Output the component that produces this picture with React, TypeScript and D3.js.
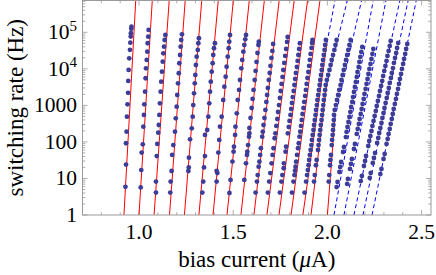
import * as d3 from "d3";

// theory curves: [bias current (uA), switching rate (Hz)]
const redFits: [number, number][][] = [
  [[0.920, 1], [0.984, 1e6]],
  [[1.000, 1], [1.072, 1e6]],
  [[1.080, 1], [1.162, 1e6]],
  [[1.162, 1], [1.247, 1e6]],
  [[1.241, 1], [1.335, 1e6]],
  [[1.318, 1], [1.423, 1e6]],
  [[1.393, 1], [1.503, 1e6]],
  [[1.467, 1], [1.588, 1e6]],
  [[1.541, 1], [1.668, 1e6]],
  [[1.610, 1], [1.747, 1e6]],
  [[1.679, 1], [1.827, 1e6]],
  [[1.743, 1], [1.898, 1e6]],
  [[1.807, 1], [1.964, 1e6]],
  [[1.870, 1], [1.998, 51300]],
  [[1.913, 1], [1.996, 3630]],
  [[2.000, 1], [2.040, 447]],
];

const blueFits: [number, number][][] = [
  [[1.998, 51300], [2.045, 1e6]],
  [[1.996, 3630], [2.112, 1e6]],
  [[2.040, 447], [2.187, 1e6]],
  [[2.035, 1], [2.248, 1e6]],
  [[2.088, 1], [2.316, 1e6]],
  [[2.141, 1], [2.390, 1e6]],
  [[2.189, 1], [2.434, 1e6]],
  [[2.237, 1], [2.477, 1e6]],
];

// measured switching rates, one set per temperature
const dots01 = [[0.928,5.9],[0.931,24],[0.931,92],[0.934,190],[0.936,490],[0.939,1070],[0.942,2200],[0.943,4650],[0.945,9300],[0.948,19400],[0.952,33000],[0.954,52000],[0.956,76000],[0.957,94000],[0.959,125000],[0.960,142000]];
const dots02 = [[1.009,5.7],[1.012,17],[1.014,51],[1.020,86],[1.023,261],[1.026,546],[1.028,1070],[1.032,2370],[1.035,5510],[1.037,10300],[1.041,17500],[1.044,29400],[1.046,50000],[1.049,75800],[1.051,116000]];
const dots03 = [[1.090,4.1],[1.090,8.2],[1.094,41],[1.097,88],[1.102,179],[1.105,290],[1.108,546],[1.111,1140],[1.115,2370],[1.118,4450],[1.122,8350],[1.126,15700],[1.129,26600],[1.133,40400],[1.136,61500],[1.140,84300]];
const dots04 = [[1.166,4.1],[1.168,8.2],[1.173,16],[1.176,44],[1.182,82],[1.191,190],[1.195,443],[1.200,920],[1.203,1920],[1.207,4020],[1.211,7550],[1.214,14200],[1.218,23900],[1.221,40400],[1.224,61500],[1.228,88100]];
const dots05 = [[1.262,16],[1.264,20],[1.265,37],[1.271,118],[1.280,236],[1.285,490],[1.288,1020],[1.292,2140],[1.296,4020],[1.299,6780],[1.302,12700],[1.306,21500],[1.312,32800],[1.315,50000],[1.318,68500]];
const dots06 = [[1.336,4.1],[1.341,8.2],[1.345,20],[1.350,41],[1.350,155],[1.362,212],[1.368,490],[1.373,1140],[1.377,2370],[1.381,4450],[1.386,8350],[1.391,14200],[1.394,23900],[1.398,36500],[1.403,50000]];
const dots07 = [[1.412,8.2],[1.416,14],[1.412,16],[1.421,51],[1.426,113],[1.430,261],[1.439,490],[1.447,1400],[1.453,3240],[1.460,6090],[1.465,11400],[1.471,21500],[1.476,36500],[1.479,55300],[1.483,84300]];
const dots08 = [[1.480,4.0],[1.486,9.1],[1.496,29],[1.502,54],[1.504,74],[1.510,155],[1.512,261],[1.519,607],[1.524,1400],[1.531,2640],[1.536,4950],[1.543,10300],[1.548,17500],[1.554,29400],[1.559,44900],[1.564,64300],[1.568,84300]];
const dots09 = [[1.559,9.1],[1.568,26],[1.573,44],[1.575,54],[1.579,82],[1.584,139],[1.586,172],[1.586,240],[1.592,451],[1.598,848],[1.603,1500],[1.608,2640],[1.614,4950],[1.619,8730],[1.624,15400],[1.629,27100],[1.634,44900],[1.636,55300]];
const dots10 = [[1.619,4.1],[1.626,8.2],[1.630,12.4],[1.635,21],[1.639,28.8],[1.643,44],[1.647,67],[1.654,139],[1.657,190],[1.661,290],[1.666,451],[1.671,748],[1.676,1240],[1.680,1920],[1.684,2990],[1.689,4950],[1.694,7690],[1.698,12000],[1.703,19800],[1.708,30800],[1.712,47800]];
const dots11 = [[1.684,4.1],[1.691,8.2],[1.697,14],[1.704,26],[1.709,44],[1.714,67],[1.720,126],[1.724,172],[1.729,273],[1.734,424],[1.738,659],[1.743,1020],[1.748,1590],[1.752,2470],[1.757,3850],[1.762,5980],[1.766,9290],[1.771,14500],[1.776,22500],[1.781,34900],[1.786,54300],[1.789,74300]];
const dots12 = [[1.748,4.1],[1.756,8.2],[1.761,12.4],[1.768,19],[1.769,26],[1.778,54],[1.781,74],[1.790,172],[1.795,256],[1.799,374],[1.804,546],[1.808,796],[1.812,1160],[1.816,1690],[1.821,2470],[1.825,3610],[1.829,5270],[1.833,7690],[1.838,11200],[1.842,16400],[1.846,23900],[1.850,34900],[1.854,50000]];
const dots13 = [[1.812,4.1],[1.820,8.2],[1.825,12.4],[1.828,16.3],[1.831,21],[1.834,28.8],[1.839,44],[1.844,67],[1.848,92],[1.852,139],[1.856,190],[1.860,273],[1.864,398],[1.868,581],[1.873,848],[1.877,1240],[1.882,1810],[1.886,2640],[1.890,3850],[1.894,5610],[1.899,8190],[1.903,12000],[1.907,17500],[1.911,25500],[1.916,37200],[1.919,50900],[1.921,61500]];
const dots14 = [[1.879,4.1],[1.887,8.2],[1.892,12.4],[1.896,17],[1.900,23],[1.903,32],[1.907,44],[1.911,60],[1.915,82],[1.918,113],[1.922,155],[1.926,212],[1.929,290],[1.933,398],[1.937,546],[1.940,748],[1.944,1020],[1.947,1400],[1.951,1920],[1.955,2640],[1.959,3610],[1.962,4950],[1.966,6780],[1.970,9290],[1.973,12700],[1.977,17500],[1.981,23900],[1.985,32800],[1.988,44900],[1.992,61500]];
const dots15 = [[1.929,8.2],[1.933,12.4],[1.939,23],[1.943,32],[1.950,60],[1.953,82],[1.956,113],[1.959,155],[1.962,212],[1.965,290],[1.969,398],[1.972,546],[1.975,748],[1.978,1020],[1.981,1400],[1.985,1920],[1.988,2640],[1.991,3610],[1.997,4950],[2.004,6780],[2.011,9290],[2.017,12700],[2.023,17500],[2.030,23900],[2.037,32800],[2.043,44900],[2.049,61500]];
const dots16 = [[2.007,8.2],[2.010,12.4],[2.014,23],[2.016,32],[2.019,44],[2.023,82],[2.025,113],[2.028,155],[2.030,212],[2.032,290],[2.034,398],[2.035,546],[2.039,748],[2.045,1020],[2.051,1400],[2.057,1920],[2.063,2640],[2.070,3610],[2.075,4950],[2.081,6780],[2.087,9290],[2.093,12700],[2.099,17500],[2.105,23900],[2.111,32800],[2.117,44900],[2.123,61500]];
const dots17 = [[2.049,5.8],[2.054,8.0],[2.064,15],[2.068,20.6],[2.073,28.2],[2.083,53],[2.088,72.6],[2.098,136],[2.102,187],[2.107,256],[2.112,351],[2.117,481],[2.122,659],[2.126,903],[2.132,1240],[2.136,1690],[2.141,2320],[2.146,3180],[2.151,4370],[2.156,5980],[2.160,8190],[2.166,11200],[2.170,15400],[2.175,21100],[2.180,28900],[2.185,39600]];
const dots18 = [[2.105,7.1],[2.109,9.7],[2.120,18.2],[2.125,24.9],[2.130,34.1],[2.141,64],[2.146,87.7],[2.156,165],[2.161,226],[2.167,309],[2.171,424],[2.177,581],[2.182,796],[2.187,1090],[2.193,1500],[2.197,2050],[2.203,2810],[2.208,3850],[2.213,5270],[2.218,7220],[2.223,9900],[2.229,13600],[2.234,18600],[2.239,25500],[2.244,34900]];
const dots19 = [[2.177,8.5],[2.183,11.7],[2.194,21.9],[2.200,30.0],[2.205,41.2],[2.217,77.3],[2.222,106],[2.228,145],[2.234,199],[2.239,273],[2.245,374],[2.251,512],[2.257,702],[2.262,962],[2.268,1320],[2.274,1810],[2.279,2470],[2.285,3390],[2.291,4650],[2.296,6370],[2.302,8730],[2.308,12000],[2.314,16400],[2.319,22500],[2.325,30800],[2.331,42200],[2.336,57800]];
const dots20 = [[2.225,10.3],[2.230,14.1],[2.241,26.5],[2.247,36.3],[2.253,49.7],[2.264,93.4],[2.270,128],[2.275,175],[2.281,240],[2.287,330],[2.292,451],[2.298,619],[2.303,848],[2.309,1160],[2.315,1590],[2.320,2180],[2.326,2990],[2.331,4100],[2.337,5610],[2.342,7690],[2.348,10500],[2.353,14500],[2.359,19800],[2.365,27100],[2.370,37200],[2.376,50900]];
const dots21 = [[2.281,13.2],[2.287,18.2],[2.298,34.1],[2.304,46.7],[2.314,87.7],[2.320,120],[2.325,165],[2.331,226],[2.336,309],[2.342,424],[2.347,581],[2.352,796],[2.358,1090],[2.364,1500],[2.369,2050],[2.375,2810],[2.380,3850],[2.385,5270],[2.391,7220],[2.396,9900],[2.402,13600],[2.407,18600],[2.413,25500],[2.418,34900],[2.424,47800]];

const dotSets = [dots01, dots02, dots03, dots04, dots05, dots06, dots07, dots08, dots09, dots10, dots11,
  dots12, dots13, dots14, dots15, dots16, dots17, dots18, dots19, dots20, dots21];

const xTicks = [1.0, 1.5, 2.0, 2.5];
const yTicks = [1, 10, 100, 1000, 1e4, 1e5];

const width = 436;
const height = 275;
const margin = { top: 0.5, right: 5, bottom: 60, left: 82.5 };
const frame = "#9a9a9a";
const serif = "'Liberation Serif', 'Times New Roman', serif";

const App = () => {
  const x = d3.scaleLinear().domain([0.7, 2.55]).range([margin.left, width - margin.right]);
  const y = d3.scaleLog().domain([1, 7.4e5]).range([height - margin.bottom, margin.top]);
  const [x0, x1] = x.range();
  const [y0, y1] = y.range();

  const line = d3.line<number[]>()
    .x((d) => x(d[0]))
    .y((d) => y(d[1]));

  // tick positions
  const xMinor = d3.range(8, 26).map((v) => v / 10).filter((v) => !xTicks.some((t) => Math.abs(t - v) < 1e-6));
  const yMinor: number[] = [];
  yTicks.forEach((d) => {
    for (let k = 2; k <= 9; k++) if (d * k < 7.4e5) yMinor.push(d * k);
  });

  const tickLen = 5;
  const minorLen = 2.8;

  return (
    <svg width={width} height={height} style={{ position: "absolute", left: 0, top: 0, background: "#fff" }}>
      <defs>
        <clipPath id="plotArea">
          <rect x={x0} y={y1} width={x1 - x0} height={y0 - y1} />
        </clipPath>
      </defs>

      {/* frame ticks */}
      <g stroke={frame} strokeWidth={0.8}>
        {xTicks.map((t) => (
          <g key={"xt" + t}>
            <line x1={x(t)} x2={x(t)} y1={y0} y2={y0 - tickLen} />
            <line x1={x(t)} x2={x(t)} y1={y1} y2={y1 + tickLen} />
          </g>
        ))}
        {xMinor.map((t) => (
          <g key={"xm" + t}>
            <line x1={x(t)} x2={x(t)} y1={y0} y2={y0 - minorLen} />
            <line x1={x(t)} x2={x(t)} y1={y1} y2={y1 + minorLen} />
          </g>
        ))}
        {yTicks.map((t) => (
          <g key={"yt" + t}>
            <line x1={x0} x2={x0 + tickLen} y1={y(t)} y2={y(t)} />
            <line x1={x1} x2={x1 - tickLen} y1={y(t)} y2={y(t)} />
          </g>
        ))}
        {yMinor.map((t) => (
          <g key={"ym" + t}>
            <line x1={x0} x2={x0 + minorLen} y1={y(t)} y2={y(t)} />
            <line x1={x1} x2={x1 - minorLen} y1={y(t)} y2={y(t)} />
          </g>
        ))}
      </g>

      <g clipPath="url(#plotArea)" fill="none" strokeWidth={1}>
        {redFits.map((f, i) => (
          <path key={"r" + i} d={line(f) || ""} stroke="#ff0000" />
        ))}
        {blueFits.map((f, i) => (
          <path key={"b" + i} d={line(f) || ""} stroke="#0000ff" strokeDasharray="4,3" />
        ))}
      </g>

      <g fill="rgb(61,61,153)" clipPath="url(#plotArea)">
        {dotSets.map((set, i) =>
          set.map((d, j) => <circle key={i + "-" + j} cx={x(d[0])} cy={y(d[1])} r={2.4} />)
        )}
      </g>

      <rect x={x0} y={y1} width={x1 - x0} height={y0 - y1} fill="none" stroke={frame} strokeWidth={1} />

      {/* tick labels */}
      <g fontFamily={serif} fontSize={21.5} fill="#000">
        {xTicks.map((t) => (
          <text key={"xl" + t} x={x(t)} y={239} textAnchor="middle">
            {t.toFixed(1)}
          </text>
        ))}
        {yTicks.map((t) => {
          const e = Math.round(Math.log10(t));
          return (
            <text key={"yl" + t} x={77} y={y(t) + 7} textAnchor="end">
              {t < 1e4 ? String(t) : "10"}
              {t >= 1e4 && (
                <tspan dy={-8.5} fontSize={15}>
                  {e}
                </tspan>
              )}
            </text>
          );
        })}
      </g>

      {/* axis titles */}
      <g fontFamily={serif} fontSize={23} fill="#000">
        <text x={(x0 + x1) / 2} y={267} textAnchor="middle">
          bias current (<tspan fontStyle="italic">μ</tspan>A)
        </text>
        <text transform={`translate(23,${(y0 + y1) / 2}) rotate(-90)`} textAnchor="middle">
          switching rate (Hz)
        </text>
      </g>
    </svg>
  );
};

export default App;
